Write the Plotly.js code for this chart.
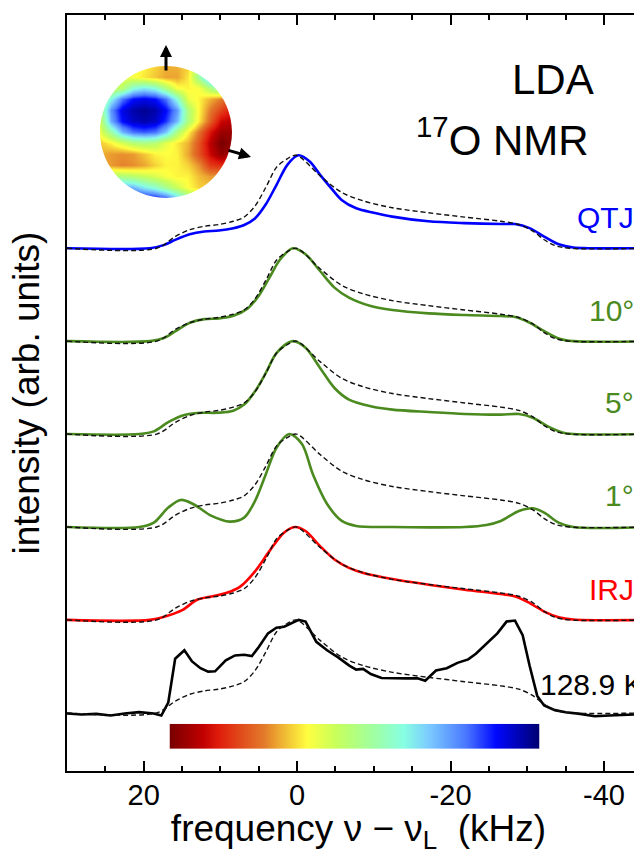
<!DOCTYPE html>
<html>
<head>
<meta charset="utf-8">
<script src="https://cdn.plot.ly/plotly-3.0.1.min.js"></script>
<style>
html,body{margin:0;padding:0;background:#fff;overflow:hidden;width:634px;height:854px;}
#chart{width:680px;height:854px;}
</style>
</head>
<body>
<div id="chart"></div>
<script>
// ---------- data (frequency in kHz, normalized intensity) ----------
const qtjX = [30, 19.2, 17.3, 15.9, 14.0, 12.1, 10.2, 8.3, 6.9, 5.5, 4.1, 2.7, 1.25, -0.16, -1.6, -3.0, -4.4, -5.8, -7.7, -10.1, -12.4, -17.1, -21.8, -26.6, -28.4, -30.3, -32.2, -34.1, -36.0, -37.9, -46];
const qtjY = [0, 0, 0.036, 0.09, 0.151, 0.18, 0.19, 0.216, 0.25, 0.32, 0.47, 0.68, 0.9, 1.0, 0.935, 0.79, 0.65, 0.52, 0.43, 0.38, 0.34, 0.29, 0.27, 0.26, 0.26, 0.216, 0.126, 0.043, 0.007, 0, 0];

const deg10X = [30, 19.16, 17.28, 15.86, 13.98, 12.09, 10.21, 8.32, 6.44, 5.02, 3.61, 2.20, 0.55, -1.10, -2.99, -4.87, -6.76, -9.59, -12.41, -17.13, -21.84, -26.55, -28.44, -30.32, -32.21, -34.09, -35.98, -46];
const deg10Y = [0, 0, 0.036, 0.108, 0.198, 0.237, 0.245, 0.273, 0.353, 0.486, 0.683, 0.881, 1.0, 0.935, 0.755, 0.576, 0.468, 0.378, 0.335, 0.299, 0.281, 0.27, 0.259, 0.198, 0.108, 0.029, 0, 0];

const deg5X = [30, 20.57, 18.69, 16.80, 14.92, 13.03, 10.21, 8.32, 6.91, 5.49, 4.08, 2.67, 0.55, -1.10, -2.99, -4.87, -6.76, -9.59, -12.41, -17.13, -21.84, -26.55, -28.91, -30.79, -32.68, -34.56, -35.98, -46];
const deg5Y = [0, 0, 0.029, 0.129, 0.201, 0.227, 0.23, 0.252, 0.317, 0.46, 0.658, 0.874, 1.0, 0.928, 0.712, 0.496, 0.371, 0.299, 0.263, 0.237, 0.216, 0.209, 0.216, 0.173, 0.083, 0.018, 0, 0];

const deg1X = [30, 20.57, 18.69, 16.80, 15.16, 13.51, 11.15, 8.79, 6.91, 5.49, 4.08, 2.67, 1.02, -0.63, -2.05, -3.93, -5.82, -7.70, -12.41, -17.13, -21.84, -24.67, -26.55, -28.91, -30.79, -32.21, -34.09, -35.98, -46];
const deg1Y = [0, 0, 0.047, 0.209, 0.291, 0.245, 0.119, 0.058, 0.101, 0.281, 0.568, 0.856, 1.0, 0.892, 0.568, 0.245, 0.065, 0.011, 0, -0.004, 0, 0.022, 0.065, 0.173, 0.201, 0.155, 0.047, 0, 0];

const irjX = [30, 19.2, 16.80, 14.92, 13.03, 11.15, 9.26, 7.38, 5.49, 3.61, 1.72, 0.31, -1.10, -2.99, -4.87, -6.76, -8.64, -12.41, -17.13, -21.84, -26.55, -28.44, -30.32, -32.21, -34.09, -35.98, -46];
const irjY = [0, 0, 0.047, 0.108, 0.217, 0.253, 0.289, 0.361, 0.523, 0.74, 0.939, 1.0, 0.957, 0.794, 0.65, 0.56, 0.505, 0.44, 0.379, 0.325, 0.278, 0.253, 0.181, 0.090, 0.029, 0.004, 0];

// dashed reference pattern (same in every panel)
const refX = [30, 18.3, 15.86, 13.98, 12.09, 10.21, 8.32, 6.91, 5.49, 4.08, 2.67, 1.25, 0.1, -2.99, -5.82, -8.64, -12.41, -17.13, -21.84, -26.55, -28.91, -30.79, -32.21, -33.62, -35.5, -46];
const refY = [0, 0, 0.127, 0.2, 0.236, 0.255, 0.29, 0.335, 0.455, 0.655, 0.873, 0.964, 1.0, 0.78, 0.6, 0.509, 0.436, 0.382, 0.335, 0.29, 0.255, 0.182, 0.091, 0.029, 0, 0];

// experiment 128.9 K
const expX = [30, 28.1, 26.2, 24.3, 22.5, 20.6, 18.7, 17.7, 16.8, 15.9, 14.7, 13.7, 12.6, 11.6, 10.7, 9.3, 8.1, 6.9, 5.9, 5.0, 3.8, 2.7, 1.7, 0.8, -0.2, -1.1, -2.5, -3.9, -5.3, -6.8, -7.7, -8.6, -9.6, -11.0, -12.4, -14.3, -15.7, -16.7, -18.1, -19.5, -20.9, -22.3, -23.3, -24.7, -26.1, -27.3, -28.4, -29.4, -30.3, -31.3, -32.2, -33.6, -35.0, -36.9, -38.8, -40.7, -42.6, -43.9, -46];
const expY = [-0.007, -0.018, -0.011, -0.029, -0.007, 0.007, -0.007, -0.029, 0.109, 0.582, 0.673, 0.553, 0.48, 0.444, 0.447, 0.564, 0.618, 0.625, 0.611, 0.709, 0.855, 0.916, 0.927, 0.964, 1.0, 0.982, 0.764, 0.673, 0.6, 0.509, 0.465, 0.473, 0.418, 0.375, 0.371, 0.371, 0.371, 0.345, 0.455, 0.48, 0.538, 0.575, 0.636, 0.745, 0.855, 0.982, 0.993, 0.836, 0.509, 0.182, 0.08, 0.029, 0.007, -0.011, -0.036, -0.029, -0.018, -0.018, -0.01];

const panelLabels = ['QTJ', '10°', '5°', '1°', 'IRJ', '128.9 K'];
const panelOffsets = [5, 4, 3, 2, 1, 0];
const xTicks = [20, 0, -20, -40];

// inset sphere (colour-scale value 0 = dark red ... 1 = navy), rows top -> bottom
const sphereU = [-1, -0.8333, -0.6667, -0.5, -0.3333, -0.1667, 0, 0.1667, 0.3333, 0.5, 0.6667, 0.8333, 1];
const sphereRowsTopDown = [
  [0.40, 0.40, 0.40, 0.38, 0.36, 0.33, 0.30, 0.30, 0.33, 0.55, 0.75, 0.80, 0.80],
  [0.40, 0.40, 0.40, 0.38, 0.35, 0.32, 0.29, 0.29, 0.35, 0.55, 0.75, 0.80, 0.80],
  [0.45, 0.45, 0.48, 0.62, 0.66, 0.62, 0.50, 0.38, 0.36, 0.38, 0.50, 0.60, 0.60],
  [0.50, 0.64, 0.80, 0.88, 0.90, 0.88, 0.80, 0.62, 0.40, 0.36, 0.30, 0.25, 0.20],
  [0.50, 0.77, 0.90, 0.95, 0.97, 0.95, 0.88, 0.76, 0.50, 0.36, 0.25, 0.18, 0.12],
  [0.45, 0.74, 0.88, 0.93, 0.95, 0.93, 0.85, 0.72, 0.50, 0.35, 0.22, 0.10, 0.08],
  [0.40, 0.55, 0.72, 0.80, 0.82, 0.80, 0.70, 0.50, 0.36, 0.24, 0.12, 0.04, 0.04],
  [0.32, 0.36, 0.42, 0.48, 0.50, 0.48, 0.40, 0.35, 0.30, 0.20, 0.08, 0.00, 0.03],
  [0.30, 0.28, 0.27, 0.28, 0.32, 0.36, 0.37, 0.36, 0.29, 0.20, 0.10, 0.03, 0.06],
  [0.30, 0.28, 0.26, 0.27, 0.29, 0.33, 0.36, 0.36, 0.33, 0.27, 0.17, 0.15, 0.20],
  [0.50, 0.50, 0.50, 0.48, 0.45, 0.42, 0.38, 0.36, 0.36, 0.31, 0.28, 0.28, 0.28],
  [0.75, 0.75, 0.75, 0.72, 0.65, 0.60, 0.52, 0.44, 0.37, 0.33, 0.32, 0.32, 0.32],
  [0.90, 0.90, 0.90, 0.90, 0.90, 0.88, 0.82, 0.70, 0.55, 0.45, 0.45, 0.45, 0.45]
];
const colorbarStops = [0, 0.05, 0.1, 0.15, 0.2, 0.25, 0.3, 0.35, 0.4, 0.45, 0.5, 0.55, 0.6, 0.65, 0.7, 0.75, 0.8, 0.85, 0.9, 0.95, 1];

// ---------- styling ----------
const FONT = 'Liberation Sans, Arial, Helvetica, sans-serif';
const BLUE = '#0000ff', GREEN = '#4b8a1f', RED = '#ff0000', BLACK = '#000000';
const jet = [
  [0.00, '#7a0000'], [0.09, '#c20000'], [0.13, '#e01c0c'], [0.25, '#e2782a'],
  [0.33, '#f6d238'], [0.37, '#ffff40'], [0.45, '#c6ff5c'], [0.55, '#a0ffa2'],
  [0.63, '#88ffe2'], [0.70, '#7ccaff'], [0.80, '#4a78ff'], [0.88, '#0008ff'], [1.00, '#00006e']
];

const L = 67, T = 15, PW = 583, PH = 756.5;
const PX = p => (p - L) / PW;
const PY = p => 1 - (p - T) / PH;

const shift = (arr, o) => arr.map(v => v + o);

const series = [
  {x: qtjX, y: qtjY, c: BLUE},
  {x: deg10X, y: deg10Y, c: GREEN},
  {x: deg5X, y: deg5Y, c: GREEN},
  {x: deg1X, y: deg1Y, c: GREEN},
  {x: irjX, y: irjY, c: RED}
];

const traces = [];
series.forEach((s, i) => {
  traces.push({x: s.x, y: shift(s.y, panelOffsets[i]), mode: 'lines', type: 'scatter',
    line: {color: s.c, width: 2.6, shape: 'spline', smoothing: 0.9}, hoverinfo: 'skip'});
});
traces.push({x: expX, y: shift(expY, panelOffsets[5]), mode: 'lines', type: 'scatter',
  line: {color: BLACK, width: 2.6}, hoverinfo: 'skip'});
panelOffsets.forEach(o => {
  traces.push({x: refX, y: shift(refY, o), mode: 'lines', type: 'scatter',
    line: {color: '#111', width: 1.4, dash: '5px,3px', shape: 'spline', smoothing: 0.9}, hoverinfo: 'skip'});
});

// sphere heatmap
traces.push({type: 'heatmap', x: sphereU, y: sphereU.slice(),
  z: sphereRowsTopDown.slice().reverse(), zmin: 0, zmax: 1, colorscale: jet,
  zsmooth: 'best', showscale: false, xaxis: 'x2', yaxis: 'y2', hoverinfo: 'skip'});
// colour bar
traces.push({type: 'heatmap', x: colorbarStops.map((v, i) => i), y: [0, 1],
  z: [colorbarStops, colorbarStops], zmin: 0, zmax: 1, colorscale: jet,
  zsmooth: 'best', showscale: false, xaxis: 'x3', yaxis: 'y3', hoverinfo: 'skip'});

const k = 0.5523;
const maskPaths = [
  `M -1,1 L 0,1 C ${-k},1 -1,${k} -1,0 Z`,
  `M 1,1 L 0,1 C ${k},1 1,${k} 1,0 Z`,
  `M -1,-1 L 0,-1 C ${-k},-1 -1,${-k} -1,0 Z`,
  `M 1,-1 L 0,-1 C ${k},-1 1,${-k} 1,0 Z`
];
const shapes = maskPaths.map(p => ({type: 'path', path: p, xref: 'x2', yref: 'y2',
  fillcolor: '#ffffff', line: {width: 0}, layer: 'above'}));

const labelStyle = [
  {t: panelLabels[0], c: BLUE, y: 218},
  {t: panelLabels[1], c: GREEN, y: 311},
  {t: panelLabels[2], c: GREEN, y: 403},
  {t: panelLabels[3], c: GREEN, y: 496},
  {t: panelLabels[4], c: RED, y: 590}
];
const annotations = labelStyle.map(s => ({xref: 'paper', yref: 'paper', x: PX(636), y: PY(s.y),
  xanchor: 'right', yanchor: 'middle', text: s.t, showarrow: false,
  font: {family: FONT, size: 30, color: s.c}}));
annotations.push({xref: 'paper', yref: 'paper', x: PX(538), y: PY(685), xanchor: 'left', yanchor: 'middle',
  text: panelLabels[5], showarrow: false, font: {family: FONT, size: 30, color: BLACK}});
annotations.push({xref: 'paper', yref: 'paper', x: PX(553), y: PY(80), xanchor: 'center', yanchor: 'middle',
  text: 'LDA', showarrow: false, font: {family: FONT, size: 42, color: BLACK}});
annotations.push({xref: 'paper', yref: 'paper', x: PX(502), y: PY(137), xanchor: 'center', yanchor: 'middle',
  text: '<sup>17</sup>O NMR', showarrow: false, font: {family: FONT, size: 42, color: BLACK}});
// arrows on the sphere
annotations.push({xref: 'paper', yref: 'paper', x: PX(166), y: PY(45), ax: 0, ay: 27, axref: 'pixel', ayref: 'pixel',
  text: '', showarrow: true, arrowhead: 2, arrowsize: 0.8, arrowwidth: 3, arrowcolor: BLACK});
annotations.push({xref: 'paper', yref: 'paper', x: PX(251), y: PY(157), ax: -24, ay: -7, axref: 'pixel', ayref: 'pixel',
  text: '', showarrow: true, arrowhead: 2, arrowsize: 0.8, arrowwidth: 3, arrowcolor: BLACK});

const layout = {
  width: 680, height: 854,
  margin: {l: L, r: 680 - L - PW, t: T, b: 854 - T - PH},
  paper_bgcolor: '#fff', plot_bgcolor: '#fff',
  showlegend: false,
  font: {family: FONT, color: BLACK},
  xaxis: {
    range: [30, -46], tickvals: xTicks, ticktext: xTicks.map(String),
    ticks: 'inside', ticklen: 10, tickwidth: 2, tickcolor: BLACK,
    minor: {ticks: 'inside', ticklen: 5, tickwidth: 2, dtick: 5, tick0: 0, tickcolor: BLACK},
    showline: true, linewidth: 2, linecolor: BLACK, mirror: 'ticks',
    showgrid: false, zeroline: false, ticklabelstandoff: -3,
    tickfont: {family: FONT, size: 29, color: BLACK},
    title: {text: 'frequency ν − ν<sub>L</sub>  (kHz)', font: {family: FONT, size: 37, color: BLACK}, standoff: 12}
  },
  yaxis: {
    range: [-0.626, 7.51], showticklabels: false, ticks: '',
    showline: true, linewidth: 2, linecolor: BLACK, mirror: true,
    showgrid: false, zeroline: false,
    title: {text: 'intensity (arb. units)', font: {family: FONT, size: 37, color: BLACK}, standoff: 14}
  },
  xaxis2: {domain: [PX(100), PX(232)], range: [-1, 1], visible: false, anchor: 'y2', fixedrange: true},
  yaxis2: {domain: [PY(198), PY(66)], range: [-1, 1], visible: false, anchor: 'x2', fixedrange: true},
  xaxis3: {domain: [PX(169.5), PX(539.5)], range: [0, colorbarStops.length - 1], visible: false, anchor: 'y3'},
  yaxis3: {domain: [PY(749.3), PY(724.3)], range: [0, 1], visible: false, anchor: 'x3'},
  shapes: shapes,
  annotations: annotations
};

Plotly.newPlot('chart', traces, layout, {staticPlot: true, displayModeBar: false});
</script>
</body>
</html>
